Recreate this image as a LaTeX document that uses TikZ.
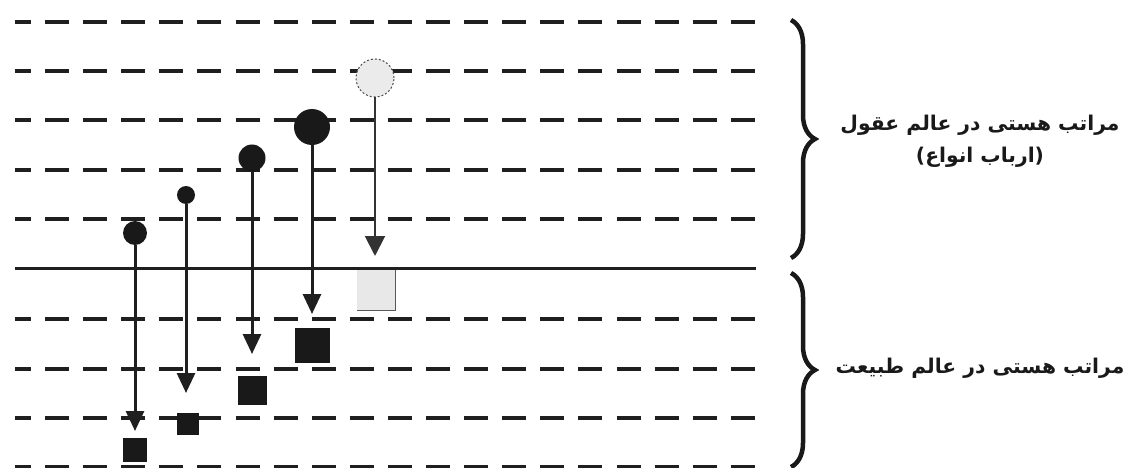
\documentclass[tikz,border=0pt]{standalone}
\usepackage{fontspec}
\usetikzlibrary{arrows.meta,decorations.pathreplacing}
\newfontfamily\arabicfont[Script=Arabic]{DejaVu Sans}
\TeXXeTstate=1
\begin{document}
\begin{tikzpicture}[x=1pt,y=-1pt,
  dashline/.style={line width=4pt, dash pattern=on 24pt off 14.1pt, dash phase=8.1pt, draw=black!88},
  solidline/.style={line width=3pt, draw=black!88},
  dot/.style={circle, fill=black!90, inner sep=0pt},
  ghost/.style={circle, fill=black!8, draw=black!70, line width=1pt, dash pattern=on 2pt off 2pt, inner sep=0pt, minimum size=38pt},
  sq/.style={rectangle, fill=black!90, inner sep=0pt},
  arr/.style={line width=3pt, draw=black!88, -{Triangle[length=20pt,width=18pt]}},
  thinarr/.style={line width=2pt, draw=black!80, -{Triangle[length=20pt,width=20pt]}},
  bracestyle/.style={line width=4.5pt, draw=black!90, decorate, decoration={brace, amplitude=24pt}},
  label/.style={font=\arabicfont\bfseries\fontsize{20.3}{32}\selectfont, align=center, text=black!90}
]
\useasboundingbox (0,0) rectangle (1128,468);
% horizontal lines
\foreach \yy in {22,71,120,170,219,319,369,418,467}{
  \draw[dashline] (15,\yy) -- (756,\yy);
}
\draw[solidline] (15,268) -- (756,268);

% squares
\node[sq, minimum size=24pt] (s1) at (135,450) {};
\node[sq, minimum size=22pt] (s2) at (188,424) {};
\node[sq, minimum size=29pt] (s3) at (252,390) {};
\node[sq, minimum size=35pt] (s4) at (312,345) {};
\node[rectangle, fill=black!9, inner sep=0pt, minimum width=38pt, minimum height=40pt] (s5) at (376,290) {};
\draw[line width=1.2pt, draw=black!65] (s5.north east) -- (s5.south east) -- (s5.south west);

% circles
\node[dot, minimum size=24pt] (c1) at (135,233) {};
\node[dot, minimum size=18pt] (c2) at (186,195) {};
\node[dot, minimum size=27pt] (c3) at (252,158) {};
\node[dot, minimum size=36pt] (c4) at (312,127) {};
\node[ghost] (c5) at (375,78) {};

% arrow tips
\coordinate (e1) at (135,431);
\coordinate (e2) at (186,393);
\coordinate (e3) at (252,354);
\coordinate (e4) at (312,314);
\coordinate (e5) at (375,256);

\draw[arr] (c1) -- (e1);
\draw[arr] (c2) -- (e2);
\draw[arr] (c3) -- (e3);
\draw[arr] (c4) -- (e4);
\draw[thinarr] (c5) -- (e5);

% braces
\coordinate (b1t) at (791,20);
\coordinate (b1b) at (791,258);
\coordinate (b2t) at (791,273);
\coordinate (b2b) at (791,467);
\draw[bracestyle] (b1t) -- (b1b);
\draw[bracestyle] (b2t) -- (b2b);

% labels
\node[label] (L1) at (980,141) {\beginR مراتب هستی در عالم عقول\endR\\\beginR (ارباب انواع)\endR};
\node[label] (L2) at (980,368) {\beginR مراتب هستی در عالم طبیعت\endR};
\end{tikzpicture}
\end{document}
